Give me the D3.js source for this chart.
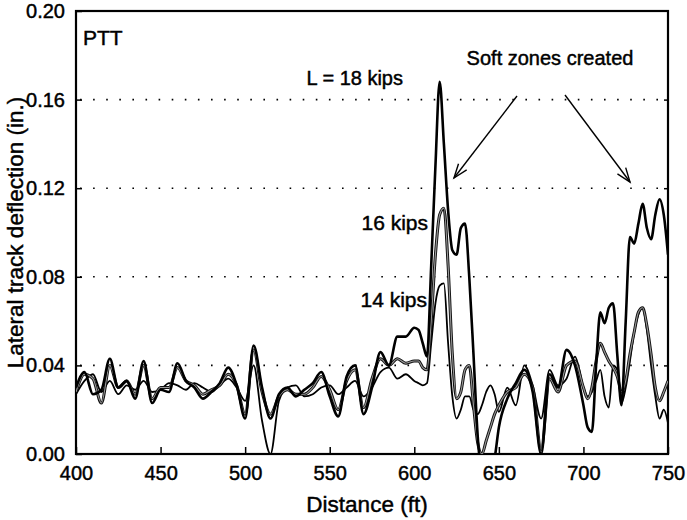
<!DOCTYPE html>
<html>
<head>
<meta charset="utf-8">
<script src="https://cdn.jsdelivr.net/npm/d3@7"></script>
<style>
  html, body { margin: 0; padding: 0; background: #fff; }
  svg { display: block; }
  text { font-family: "Liberation Sans", Arial, Helvetica, sans-serif; fill: #000; stroke: #000; stroke-width: 0.45px; }
</style>
</head>
<body>
<svg id="chart" width="687" height="520"></svg>
<script>
// ---- data ----
const distance = [
  400,405,410,415,420,425,430,435,440,445,450,455,460,465,470,475,480,485,490,495,
  500,505,510,515,520,525,530,535,540,545,550,555,560,565,570,575,580,585,590,595,600,
  602.5,605,607.5,610,612.5,615,617.5,620,622.5,625,627.5,630,632.5,635,637.5,640,642.5,645,647.5,650,
  655,660,665,670,675,680,685,690,695,700,
  702.5,705,707.5,710,712.5,715,717.5,720,722.5,725,727.5,730,732.5,735,737.5,740,742.5,745,747.5,750
];
const defl18 = [
  .030,.037,.027,.029,.043,.030,.033,.025,.042,.023,.029,.028,.041,.033,.030,.025,.028,.032,.039,.031,
  .016,.049,.030,.016,.027,.030,.026,.029,.032,.037,.026,.017,.035,.040,.018,.030,.046,.040,.053,.053,.057,
  .056,.050,.044,.085,.130,.168,.140,.110,.092,.090,.102,.104,.080,.045,.008,-.010,-.015,-.010,-.002,.012,
  .025,.032,.038,.028,.000,.036,.030,.047,.040,.022,
  .012,.010,.040,.064,.059,.066,.068,.045,.022,.060,.098,.095,.104,.113,.102,.097,.108,.115,.108,.090
];
const defl16 = [
  .028,.036,.034,.023,.040,.030,.033,.027,.040,.025,.030,.030,.039,.033,.031,.027,.029,.031,.036,.031,
  .018,.047,.028,.018,.026,.029,.027,.027,.030,.035,.029,.020,.033,.038,.021,.034,.043,.040,.043,.041,.042,
  .042,.039,.038,.060,.090,.108,.111,.085,.045,.025,.028,.038,.040,.022,.005,.000,.006,.012,.018,.022,
  .028,.030,.036,.030,.002,.034,.028,.040,.042,.030,
  .025,.030,.042,.050,.046,.042,.039,.035,.028,.033,.045,.055,.064,.066,.058,.045,.030,.024,.028,.033
];
const defl14 = [
  .027,.033,.036,.028,.033,.027,.031,.029,.033,.028,.029,.032,.031,.029,.032,.030,.028,.031,.034,.030,
  .024,.040,.015,.000,.024,.030,.031,.026,.027,.030,.031,.027,.030,.033,.026,.030,.037,.039,.034,.036,.033,
  .032,.031,.032,.050,.068,.076,.077,.050,.026,.016,.020,.026,.026,.020,.018,.022,.028,.031,.027,.019,
  .030,.022,.040,.031,.016,.038,.031,.034,.044,.030,
  .026,.028,.033,.038,.026,.021,.040,.038,.023,.030,.042,.055,.063,.066,.056,.040,.026,.016,.020,.014
];
const xTicks = [400,450,500,550,600,650,700,750];
const yTicks = [0,0.04,0.08,0.12,0.16,0.20];
const gridValues = [0.04,0.08,0.12,0.16];

// ---- layout ----
const svg = d3.select("#chart");
const L = 76, R = 668, T = 11, B = 454;
const x = d3.scaleLinear().domain([400,750]).range([L,R]);
const y = d3.scaleLinear().domain([0,0.20]).range([B,T]);

svg.append("defs").append("clipPath").attr("id","clip")
  .append("rect").attr("x",L).attr("y",T).attr("width",R-L).attr("height",B-T);

// dotted gridlines
svg.append("g").selectAll("line").data(gridValues).join("line")
  .attr("x1",L+4).attr("x2",R).attr("y1",d=>y(d)).attr("y2",d=>y(d))
  .attr("stroke","#000").attr("stroke-width",1.6)
  .attr("stroke-dasharray","1.6,11.5");

// axes
const fontSize = 20;
const xAxis = svg.append("g").attr("transform",`translate(0,${B})`)
  .call(d3.axisBottom(x).tickValues(xTicks).tickSize(-7).tickPadding(12).tickFormat(d3.format("d")));
const yAxis = svg.append("g").attr("transform",`translate(${L},0)`)
  .call(d3.axisLeft(y).tickValues(yTicks).tickSize(-6).tickPadding(11).tickFormat(d3.format(".2f")));
const yAxisR = svg.append("g").attr("transform",`translate(${R},0)`)
  .call(d3.axisRight(y).tickValues(gridValues).tickSize(-4).tickFormat(""));
[xAxis,yAxis,yAxisR].forEach(g=>{
  g.select(".domain").remove();
  g.selectAll("line").attr("stroke","#000").attr("stroke-width",1.5);
  g.selectAll("text").attr("font-size",fontSize).attr("font-family","Liberation Sans, Arial, sans-serif").attr("fill","#000");
});
xAxis.selectAll("text").attr("dy","0.72em");

// frame
svg.append("rect").attr("x",L).attr("y",T).attr("width",R-L).attr("height",B-T)
  .attr("fill","none").attr("stroke","#000").attr("stroke-width",2.2);

// lines
const line = (vals)=> d3.line().x((d,i)=>x(distance[i])).y(d=>y(d)).curve(d3.curveMonotoneX)(vals);
const g = svg.append("g").attr("clip-path","url(#clip)");
g.append("path").attr("d",line(defl14)).attr("fill","none").attr("stroke","#000").attr("stroke-width",1.8).attr("stroke-linejoin","round");
g.append("path").attr("d",line(defl16)).attr("fill","none").attr("stroke","#111").attr("stroke-width",3).attr("stroke-linejoin","round");
g.append("path").attr("d",line(defl16)).attr("fill","none").attr("stroke","#9a9a9a").attr("stroke-width",1.1).attr("stroke-linejoin","round");
g.append("path").attr("d",line(defl18)).attr("fill","none").attr("stroke","#000").attr("stroke-width",2.6).attr("stroke-linejoin","round");

// annotations
svg.append("text").attr("x",83).attr("y",45).attr("font-size",21).text("PTT");
svg.append("text").attr("x",403).attr("y",85).attr("text-anchor","end").attr("font-size",fontSize).text("L = 18 kips");
svg.append("text").attr("x",428).attr("y",230).attr("text-anchor","end").attr("font-size",21).text("16 kips");
svg.append("text").attr("x",427).attr("y",307).attr("text-anchor","end").attr("font-size",21).text("14 kips");
svg.append("text").attr("x",550).attr("y",65).attr("text-anchor","middle").attr("font-size",fontSize).text("Soft zones created");

// arrows
function arrow(x1,y1,x2,y2){
  const a = Math.atan2(y2-y1,x2-x1), len = 15, sp = 0.35;
  svg.append("line").attr("x1",x1).attr("y1",y1).attr("x2",x2).attr("y2",y2)
    .attr("stroke","#000").attr("stroke-width",1.4);
  const p = d3.path();
  p.moveTo(x2-len*Math.cos(a-sp), y2-len*Math.sin(a-sp));
  p.lineTo(x2,y2);
  p.lineTo(x2-len*Math.cos(a+sp), y2-len*Math.sin(a+sp));
  svg.append("path").attr("d",p.toString()).attr("fill","none").attr("stroke","#000").attr("stroke-width",1.4);
}
arrow(517,96,454,178);
arrow(565,95,630,182);

// axis titles
svg.append("text").attr("x",367).attr("y",512).attr("text-anchor","middle").attr("font-size",22.5).text("Distance (ft)");
svg.append("text").attr("transform",`translate(23,${(T+B)/2}) rotate(-90)`).attr("text-anchor","middle")
  .attr("font-size",22.5).text("Lateral track deflection (in.)");
</script>
</body>
</html>
